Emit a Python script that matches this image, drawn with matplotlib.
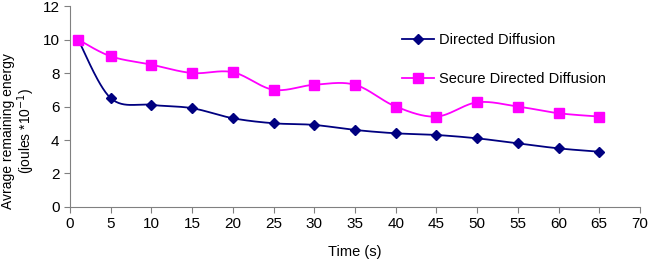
import numpy as np
import matplotlib
matplotlib.use('Agg')
import matplotlib.pyplot as plt
from matplotlib.lines import Line2D

plt.rcParams['font.family'] = ['Liberation Sans', 'DejaVu Sans']

time_s = [1, 5, 10, 15, 20, 25, 30, 35, 40, 45, 50, 55, 60, 65]
directed = [10, 6.5, 6.1, 5.9, 5.3, 5.0, 4.9, 4.6, 4.4, 4.3, 4.1, 3.8, 3.5, 3.3]
secure = [10, 9.0, 8.5, 8.0, 8.05, 7.0, 7.3, 7.3, 6.0, 5.4, 6.25, 6.0, 5.6, 5.4]


def smooth(x, y, n=30):
    # catmull-rom style curve through the points, like excel's smoothed line
    x = np.asarray(x, float)
    y = np.asarray(y, float)
    px = np.concatenate([[x[0]], x, [x[-1]]])
    py = np.concatenate([[y[0]], y, [y[-1]]])
    xs, ys = [], []
    t = np.linspace(0, 1, n)
    for i in range(1, len(px) - 2):
        p0, p1, p2, p3 = (np.array([px[j], py[j]]) for j in range(i - 1, i + 3))
        m1 = (p2 - p0) / 6
        m2 = (p3 - p1) / 6
        c1 = p1 + m1
        c2 = p2 - m2
        pts = (((1 - t) ** 3)[:, None] * p1 + (3 * (1 - t) ** 2 * t)[:, None] * c1
               + (3 * (1 - t) * t ** 2)[:, None] * c2 + (t ** 3)[:, None] * p2)
        xs.extend(pts[:, 0])
        ys.extend(pts[:, 1])
    return xs, ys


fig = plt.figure(figsize=(6.51, 2.63), dpi=100)
ax = fig.add_axes([0.1075, 0.213, 0.8755, 0.764])

blue = '#000080'
pink = '#FF00FF'

sx, sy = smooth(time_s, directed)
ax.plot(sx, sy, color=blue, lw=1.3)
ax.plot(time_s, directed, ls='none', marker='D', ms=5.5, color=blue)

sx, sy = smooth(time_s, secure)
ax.plot(sx, sy, color=pink, lw=1.3)
ax.plot(time_s, secure, ls='none', marker='s', ms=7, color=pink)

ax.set_xlim(0, 70)
ax.set_ylim(0, 12)
ax.set_xticks(range(0, 71, 5))
ax.set_yticks(range(0, 13, 2))
for s in ['top', 'right']:
    ax.spines[s].set_visible(False)
for s in ['left', 'bottom']:
    ax.spines[s].set_color('#808080')
    ax.spines[s].set_linewidth(0.8)
ax.tick_params(colors='#808080', labelcolor='black', labelsize=11, length=4, width=0.8)

ax.set_xlabel('Time (s)', fontsize=10.5)
ax.xaxis.set_label_coords(0.5, -0.19)
ax.set_ylabel('Avrage remaining energy\n(joules *10$^{-1}$)', fontsize=10, linespacing=1.05)
ax.yaxis.set_label_coords(-0.057, 0.38)

handles = [Line2D([], [], color=blue, marker='D', ms=5.5, lw=1.3),
           Line2D([], [], color=pink, marker='s', ms=7, lw=1.3)]
ax.legend(handles, ['Directed Diffusion', 'Secure Directed Diffusion'],
          loc='upper left', bbox_to_anchor=(0.56, 0.93), frameon=False,
          fontsize=10.5, labelspacing=1.7, handlelength=2.2, handletextpad=0.3)

fig.savefig('out.png', dpi=100)
